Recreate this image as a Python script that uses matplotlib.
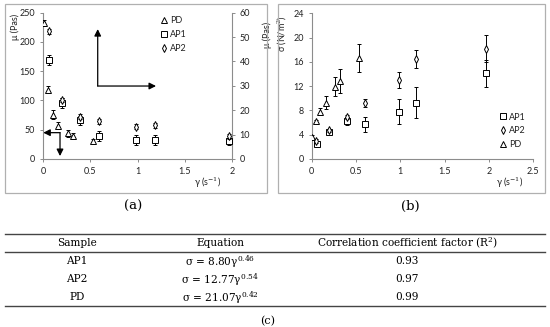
import matplotlib
matplotlib.use("Agg")
import matplotlib.pyplot as plt
from matplotlib.lines import Line2D
from matplotlib.patches import Rectangle

# ---------------- data: panel (a) viscosity ----------------
a_pd_x = [0.01, 0.053, 0.106, 0.159, 0.265, 0.318, 0.53]
a_pd_mu = [232, 118, 76, 57, 44, 40, 31]          # left axis (Pas)
a_pd_err = [5, 6, 7, 6, 6, 5, 3]

a_ap_x = [0.063, 0.2, 0.39, 0.59, 0.98, 1.18, 1.97]
a_ap1_mu = [40.5, 23.0, 15.8, 9.5, 7.8, 7.8, 7.3]  # right axis (Pas)
a_ap1_err = [2.0, 2.2, 2.0, 2.0, 2.0, 2.0, 1.5]
a_ap2_mu = [52.3, 24.2, 17.3, 15.4, 13.2, 13.8, 9.3]
a_ap2_err = [1.0, 1.0, 1.0, 1.0, 1.0, 1.0, 1.0]

# ---------------- data: panel (b) shear stress ----------------
b_pd_x = [0.01, 0.05, 0.1, 0.16, 0.27, 0.32, 0.53]
b_pd_s = [3.7, 6.2, 7.8, 9.3, 11.9, 12.9, 16.6]
b_pd_err = [0.2, 0.3, 0.6, 1.0, 1.6, 2.0, 2.3]

b_ap1_x = [0.06, 0.2, 0.4, 0.6, 0.99, 1.18, 1.97]
b_ap1_s = [2.4, 4.5, 6.3, 5.7, 7.8, 9.3, 14.1]
b_ap1_err = [0.4, 0.4, 0.7, 1.3, 2.1, 2.5, 2.2]

b_ap2_x = [0.05, 0.2, 0.4, 0.6, 0.99, 1.18, 1.97]
b_ap2_s = [3.0, 4.7, 6.9, 9.2, 13.0, 16.5, 18.2]
b_ap2_err = [0.3, 0.3, 0.3, 0.7, 1.35, 1.45, 2.3]

# ---------------- table (c) ----------------
tbl_header = ["Sample", "Equation", "Correlation coefficient factor (R$^{2}$)"]
tbl_samples = ["AP1", "AP2", "PD"]
tbl_coef = ["8.80", "12.77", "21.07"]
tbl_exp = ["0.46", "0.54", "0.42"]
tbl_r2 = ["0.93", "0.97", "0.99"]

W, H = 550, 327
fig = plt.figure(figsize=(W / 100, H / 100), dpi=100)
plt.rcParams['mathtext.fontset'] = 'custom'
plt.rcParams['mathtext.rm'] = 'DejaVu Serif'

SANS = ['Lato', 'DejaVu Sans']
SERIF = ['DejaVu Serif']
GRAY = '#8c8c8c'
TXT = '#222222'
FS = 6.5


def px_axes(l, t, r, b):
    return fig.add_axes([l / W, 1 - b / H, (r - l) / W, (b - t) / H])


def style(ax):
    for s in ['top', 'right']:
        ax.spines[s].set_visible(False)
    for s in ['left', 'bottom']:
        ax.spines[s].set_color(GRAY)
        ax.spines[s].set_linewidth(0.8)
    ax.tick_params(colors=GRAY, labelcolor=TXT, length=2.5, width=0.7,
                   labelsize=FS, pad=3)
    for lab in ax.get_xticklabels() + ax.get_yticklabels():
        lab.set_family(SANS)


# panel borders
for (l, t, r, b) in [(5, 4, 267, 193), (278, 4, 545, 193)]:
    fig.patches.append(Rectangle((l / W, 1 - b / H), (r - l) / W, (b - t) / H,
                                 transform=fig.transFigure, fill=False,
                                 edgecolor='#b0b0b0', linewidth=0.9))

ebkw = dict(ecolor='black', elinewidth=0.7, capsize=1.5, capthick=0.7,
            linestyle='none', markerfacecolor='white', markeredgecolor='black',
            markeredgewidth=0.7)

# ---------------- panel (a) ----------------
axa = px_axes(43, 12.7, 232, 159)
axa.set_xlim(0, 2)
axa.set_ylim(0, 250)
axa.set_xticks([0, 0.5, 1, 1.5, 2])
axa.set_xticklabels(['0', '0.5', '1', '1.5', '2'])
axa.set_yticks(range(0, 251, 50))
style(axa)
axa2 = axa.twinx()
axa2.set_ylim(0, 60)
axa2.set_yticks(range(0, 61, 10))
for s in ['top', 'left', 'bottom']:
    axa2.spines[s].set_visible(False)
axa2.spines['right'].set_color(GRAY)
axa2.spines['right'].set_linewidth(0.8)
axa2.tick_params(colors=GRAY, labelcolor=TXT, length=2.5, width=0.7,
                 labelsize=FS, pad=3)
for lab in axa2.get_yticklabels():
    lab.set_family(SANS)

axa.errorbar(a_pd_x, a_pd_mu, yerr=a_pd_err, marker='^', markersize=3.8, **ebkw, zorder=3)
axa2.errorbar(a_ap_x, a_ap1_mu, yerr=a_ap1_err, marker='s', markersize=4.5, **ebkw, zorder=3)
axa2.errorbar(a_ap_x, a_ap2_mu, yerr=a_ap2_err, marker='d', markersize=3.8, **ebkw, zorder=4)

axa.set_ylabel('μ (Pas)', family=SANS, fontsize=FS, color=TXT, labelpad=2)
axa.yaxis.set_label_coords(-0.12, 0.9)
axa2.set_ylabel('μ (Pas)', family=SANS, fontsize=FS, color=TXT, labelpad=2)
axa2.yaxis.set_label_coords(1.16, 0.85)
fig.text(208 / W, 1 - 183 / H, 'γ (s$^{-1}$)', family=SANS, fontsize=FS,
         color=TXT, ha='center', va='center')

# arrows
akw = dict(arrowstyle='-|>', color='black', lw=0.9, mutation_scale=10, shrinkA=0, shrinkB=0)
axa.annotate('', xy=(0.579, 222), xytext=(0.579, 124.7), arrowprops=akw)
axa.annotate('', xy=(1.196, 124.7), xytext=(0.579, 124.7), arrowprops=akw)
axa.annotate('', xy=(0.003, 45), xytext=(0.18, 45), arrowprops=akw, annotation_clip=False)
axa.annotate('', xy=(0.18, 5), xytext=(0.18, 45), arrowprops=akw)

h_pd = Line2D([], [], marker='^', ls='none', mfc='white', mec='black', mew=0.7, ms=3.8)
h_ap1 = Line2D([], [], marker='s', ls='none', mfc='white', mec='black', mew=0.7, ms=4.5)
h_ap2 = Line2D([], [], marker='d', ls='none', mfc='white', mec='black', mew=0.7, ms=3.8)

lega = axa.legend([h_pd, h_ap1, h_ap2], ['PD', 'AP1', 'AP2'], loc='upper left',
                  bbox_to_anchor=(0.6, 1.01), frameon=False, handlelength=0.6,
                  handletextpad=0.4, labelspacing=0.55, borderpad=0,
                  prop={'family': SANS, 'size': FS})
for t in lega.get_texts():
    t.set_color(TXT)

# ---------------- panel (b) ----------------
axb = px_axes(311.5, 13.3, 533.3, 159)
axb.set_xlim(0, 2.5)
axb.set_ylim(0, 24)
axb.set_xticks([0, 0.5, 1, 1.5, 2, 2.5])
axb.set_xticklabels(['0', '0.5', '1', '1.5', '2', '2.5'])
axb.set_yticks(range(0, 25, 4))
style(axb)

axb.errorbar(b_ap1_x, b_ap1_s, yerr=b_ap1_err, marker='s', markersize=4.5, **ebkw, zorder=3)
axb.errorbar(b_ap2_x, b_ap2_s, yerr=b_ap2_err, marker='d', markersize=3.8, **ebkw, zorder=4)
axb.errorbar(b_pd_x, b_pd_s, yerr=b_pd_err, marker='^', markersize=3.8, **ebkw, zorder=3)

axb.set_ylabel('σ (N/m$^{2}$)', family=SANS, fontsize=FS, color=TXT)
axb.yaxis.set_label_coords(-0.1, 0.86)
fig.text(510 / W, 1 - 183 / H, 'γ (s$^{-1}$)', family=SANS, fontsize=FS,
         color=TXT, ha='center', va='center')

legb = axb.legend([h_ap1, h_ap2, h_pd], ['AP1', 'AP2', 'PD'], loc='upper left',
                  bbox_to_anchor=(0.83, 0.35), frameon=False, handlelength=0.6,
                  handletextpad=0.4, labelspacing=0.55, borderpad=0,
                  prop={'family': SANS, 'size': FS})
for t in legb.get_texts():
    t.set_color(TXT)

# panel labels
fig.text(133 / W, 1 - 206 / H, '(a)', family=SERIF, fontsize=9.5, ha='center', va='center')
fig.text(410 / W, 1 - 206 / H, '(b)', family=SERIF, fontsize=9.5, ha='center', va='center')
fig.text(268 / W, 1 - 321 / H, '(c)', family=SERIF, fontsize=8, ha='center', va='center')

# ---------------- table (c) ----------------
for y, lw in [(234, 1.0), (251.7, 1.0), (306, 1.0)]:
    fig.add_artist(Line2D([5 / W, 545 / W], [1 - y / H, 1 - y / H], color='#444444', lw=lw,
                          transform=fig.transFigure))
col_x = [77, 220, 407]
TFS = 7.6
for cx, txt in zip(col_x, tbl_header):
    fig.text(cx / W, 1 - 243 / H, txt, family=SERIF, fontsize=TFS, ha='center', va='center')
row_y = [261.5, 279.5, 297.5]
for i, ry in enumerate(row_y):
    fig.text(col_x[0] / W, 1 - ry / H, tbl_samples[i], family=SERIF, fontsize=TFS,
             ha='center', va='center')
    eq = 'σ = ' + tbl_coef[i] + 'γ$^{' + tbl_exp[i] + '}$'
    fig.text(col_x[1] / W, 1 - ry / H, eq, family=SERIF, fontsize=TFS,
             ha='center', va='center')
    fig.text(col_x[2] / W, 1 - ry / H, tbl_r2[i], family=SERIF, fontsize=TFS,
             ha='center', va='center')

fig.savefig('out.png', dpi=100)
